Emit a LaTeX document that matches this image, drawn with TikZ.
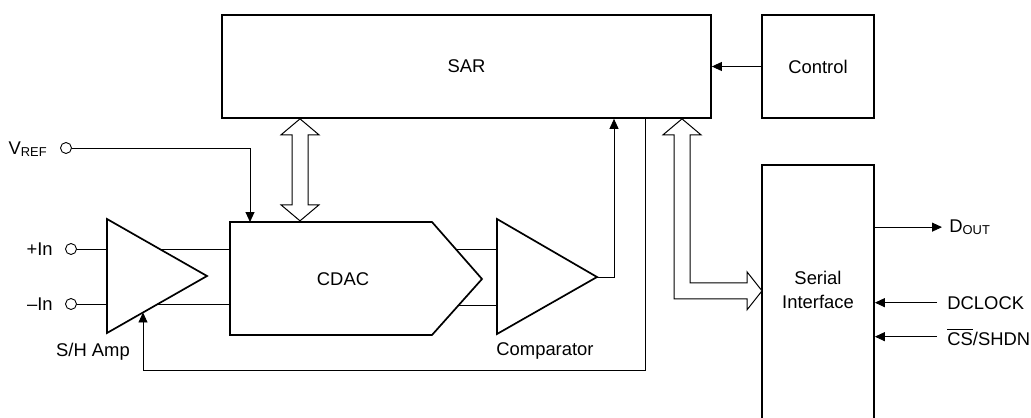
\documentclass[tikz,border=0pt]{standalone}
\usepackage{fontspec}
\setmainfont{Liberation Sans}
\usetikzlibrary{positioning,arrows.meta,calc}

\tikzstyle{every node}=[font=\fontsize{9.2}{12}\selectfont, inner sep=1pt]
\tikzstyle{block}=[draw, line width=0.85pt, fill=white, inner sep=0pt]
\tikzstyle{wire}=[line width=0.45pt]
\tikzstyle{sig}=[wire, -{Triangle[length=5pt,width=4.5pt]}]
\tikzstyle{bus}=[line width=0.5pt, fill=white]
\tikzstyle{pin}=[draw, circle, line width=0.45pt, minimum size=5.5pt, inner sep=0pt, fill=white]

\begin{document}
\begin{tikzpicture}[x=0.5pt, y=-0.5pt]
  \useasboundingbox (0,0) rectangle (1031,417);

  % blocks
  \node[block, minimum width=244.5pt, minimum height=51.5pt] (sar) at (466.5,66.5) {SAR};
  \node[block, minimum width=56pt, minimum height=51.5pt] (ctrl) at (818,66.5) {Control};
  \node[block, minimum width=56pt, minimum height=140pt, anchor=north] (serial) at (818,164) {};
  \node[align=center] (sertxt) at (818,290) {Serial\\Interface};

  % input pins
  \node[pin] (vref) at (66,148) {};
  \node[pin] (inp) at (71,249) {};
  \node[pin] (inn) at (71,304) {};
  \node[left=5pt of vref, text depth=0pt] (vreflbl) {V\textsubscript{REF}};
  \node[left=5pt of inp] (inplbl) {+In};
  \node[left=5pt of inn] (innlbl) {--In};

  % corners of CDAC, S/H amp and comparator
  \coordinate (cdacnw) at (230,222);
  \coordinate (cdacne) at (432,222);
  \coordinate (cdactip) at (482,279);
  \coordinate (cdacse) at (432,335);
  \coordinate (cdacsw) at (230,335);
  \coordinate (shtop) at (107,219);
  \coordinate (shtip) at (207,276);
  \coordinate (shbot) at (107,333);
  \coordinate (cmptop) at (497,219);
  \coordinate (cmptip) at (597,277);
  \coordinate (cmpbot) at (497,334);
  \coordinate (cmpa) at (497,249);
  \coordinate (cmpb) at (497,305);
  \coordinate (shctl) at ($(shbot)!0.36!(shtip)$);

  \draw[wire] (inp) -- (inp -| cdacnw);
  \draw[wire] (inn) -- (inn -| cdacnw);
  \draw[wire] (cmpa) -- (cmpa -| cdacne);
  \draw[wire] (cmpb) -- (cmpb -| cdacne);

  \draw[block] (cdacnw) -- (cdacne) -- (cdactip) -- (cdacse) -- (cdacsw) -- cycle;
  \node (cdac) at (343,279) {CDAC};
  \draw[block] (shtop) -- (shtip) -- (shbot) -- cycle;
  \node (shlbl) at (93,352) {S/H Amp};
  \draw[block] (cmptop) -- (cmptip) -- (cmpbot) -- cycle;
  \node (cmplbl) at (545,351) {Comparator};

  % signals
  \draw[sig] (vref) -| ([xshift=10pt]cdacnw);
  \draw[sig] (cmptip) -| (614,0 |- sar.south);
  \draw[sig] (645,0 |- sar.south) |- (shctl |- 0,370) -- (shctl);
  \draw[sig] (ctrl) -- (ctrl -| sar.east);

  % buses
  \draw[bus] (300,0 |- sar.south) -- ++(19,16) -- ++(-11,0) -- ++(0,70) -- ++(11,0)
    -- ++(-19,16) -- ++(-19,-16) -- ++(11,0) -- ++(0,-70) -- ++(-11,0) -- cycle;
  \draw[bus] (682,0 |- sar.south) -- ++(19,16) -- ++(-11,0) -- ++(0,148) -- ++(57,0)
    -- ++(0,-11) -- ++(15,19) -- ++(-15,19) -- ++(0,-11) -- ++(-73,0) -- ++(0,-164)
    -- ++(-11,0) -- cycle;

  % serial pins
  \node[anchor=base west] (dout) at (947,232) {D\textsubscript{OUT}};
  \node[anchor=base west] (dclk) at (945,309) {DCLOCK};
  \node[anchor=base west] (cs) at (945,345) {$\overline{\mbox{CS}}$/SHDN};
  \draw[sig] (serial.east |- dout) -- ([xshift=-2.5pt]dout.west);
  \draw[sig] ([xshift=-4pt]dclk.west) -- (serial.east |- dclk);
  \draw[sig] ([xshift=-4pt]cs.west) -- (serial.east |- cs);
\end{tikzpicture}
\end{document}
